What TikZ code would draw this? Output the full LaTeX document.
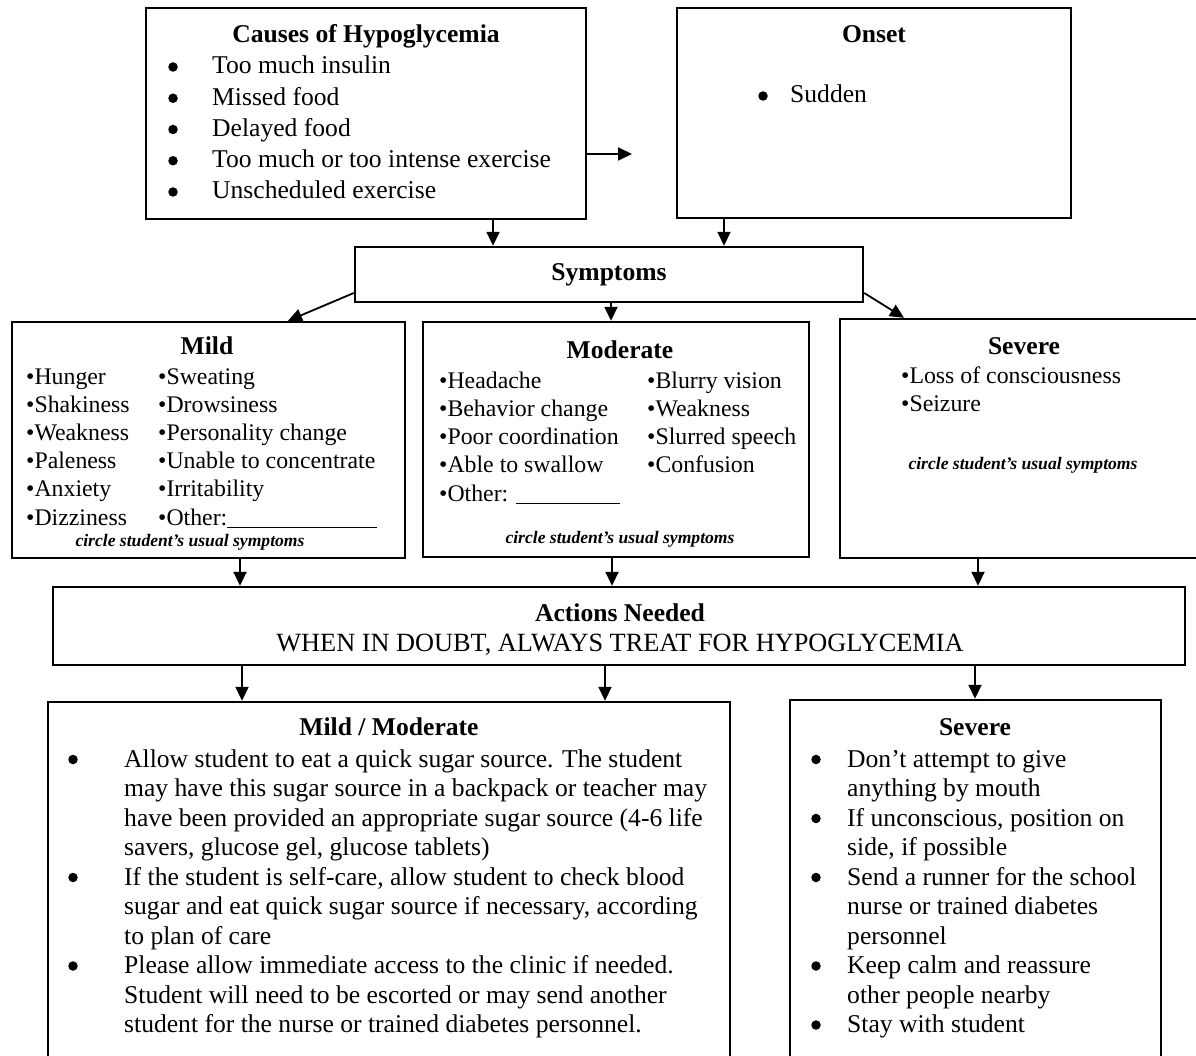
\documentclass[tikz,border=0pt]{standalone}
\usepackage{fontspec}
\setmainfont{Liberation Serif}
\usetikzlibrary{arrows.meta}
\begin{document}
\begin{tikzpicture}[x=1pt,y=-1pt,
  box/.style={draw, line width=2.4pt, inner sep=0pt},
  arr/.style={line width=1.8pt, -{Triangle[length=14pt,width=13pt]}},
  big/.style={font=\fontsize{25.6}{31}\selectfont, inner sep=0pt},
  bigb/.style={font=\fontsize{25.6}{31}\selectfont\bfseries, inner sep=0pt, anchor=base},
  med/.style={font=\fontsize{23.8}{28}\selectfont, inner sep=0pt, anchor=base west},
  note/.style={font=\fontsize{17.6}{20}\selectfont\bfseries\itshape, inner sep=0pt, anchor=base},
  dot/.style={circle, fill, inner sep=0pt, minimum size=9.5pt}]
\useasboundingbox (0,0) rectangle (1196,1056);
\clip (0,0) rectangle (1196,1056);
\fill[white] (0,0) rectangle (1196,1056);

% boxes
\node[box, minimum width=440pt, minimum height=211pt] (causes) at (366,113.5) {};
\node[box, minimum width=394pt, minimum height=210pt] (onset) at (874,113) {};
\node[box, minimum width=508pt, minimum height=55pt] (symptoms) at (609,274.5) {};
\node[box, minimum width=393pt, minimum height=236pt] (mild) at (208.5,440) {};
\node[box, minimum width=386pt, minimum height=235pt] (moderate) at (616,439.5) {};
\node[box, minimum width=358pt, minimum height=239pt] (severe) at (1019,438.5) {};
\node[box, minimum width=1132pt, minimum height=78pt] (actions) at (619,626) {};
\node[box, minimum width=682pt, minimum height=368pt] (mm) at (389,886) {};
\node[box, minimum width=371pt, minimum height=370pt] (sev2) at (975.5,885) {};

% connectors
\coordinate (oin) at (632,154);
\draw[arr] (causes.east |- oin) -- (oin);
\draw[arr] (causes.south -| 493,0) -- (symptoms.north -| 493,0);
\draw[arr] (onset.south -| 724,0) -- (symptoms.north -| 724,0);
\draw[arr] (symptoms.west |- 0,293) -- (mild.north -| 288,0);
\draw[arr] (symptoms.south -| 611,0) -- (moderate.north -| 611,0);
\draw[arr] (symptoms.east |- 0,293) -- (severe.north -| 904,0);
\draw[arr] (mild.south -| 240,0) -- (actions.north -| 240,0);
\draw[arr] (moderate.south -| 612,0) -- (actions.north -| 612,0);
\draw[arr] (severe.south -| 978,0) -- (actions.north -| 978,0);
\draw[arr] (actions.south -| 242,0) -- (mm.north -| 242,0);
\draw[arr] (actions.south -| 605,0) -- (mm.north -| 605,0);
\draw[arr] (actions.south -| 975,0) -- (sev2.north -| 975,0);

% causes
\node[bigb] (ctitle) at (366,43) {Causes of Hypoglycemia};
\foreach \t [count=\i from 0] in {Too much insulin, Missed food, Delayed food, Too much or too intense exercise, Unscheduled exercise} {
  \node[dot] (cb\i) at (173,67+31.25*\i) {};
  \node[big, anchor=base west] (ct\i) at (212,74+31.25*\i) {\t};
}

% onset
\node[bigb] (otitle) at (874,43) {Onset};
\node[dot] (ob) at (763,96) {};
\node[big, anchor=base west] (ot) at (790,103) {Sudden};

% symptoms
\node[bigb] (stitle) at (609,281) {Symptoms};

% mild
\node[bigb] (mtitle) at (207,355) {Mild};
\foreach \t [count=\i from 0] in {Hunger, Shakiness, Weakness, Paleness, Anxiety, Dizziness} {
  \node[med] (ma\i) at (26,384+28.2*\i) {\textbullet\t};
}
\foreach \t [count=\i from 0] in {Sweating, Drowsiness, Personality change, Unable to concentrate, Irritability, {Other:\rule[-3pt]{150pt}{1.2pt}}} {
  \node[med] (mb\i) at (158,384+28.2*\i) {\textbullet\t};
}
\node[note] (mnote) at (190,546) {circle student’s usual symptoms};

% moderate
\node[bigb] (dtitle) at (620,359) {Moderate};
\foreach \t [count=\i from 0] in {Headache, Behavior change, Poor coordination, Able to swallow, {Other: \rule[-3pt]{104pt}{1.2pt}}} {
  \node[med] (da\i) at (439,388+28.25*\i) {\textbullet\t};
}
\foreach \t [count=\i from 0] in {Blurry vision, Weakness, Slurred speech, Confusion} {
  \node[med] (db\i) at (647,388+28.25*\i) {\textbullet\t};
}
\node[note] (dnote) at (620,543) {circle student’s usual symptoms};

% severe
\node[bigb] (vtitle) at (1024,354) {Severe};
\node[med] (va0) at (901,383) {\textbullet Loss of consciousness};
\node[med] (va1) at (901,411) {\textbullet Seizure};
\node[note] (vnote) at (1023,469) {circle student’s usual symptoms};

% actions
\node[bigb] (atitle) at (620,621) {Actions Needed};
\node[big, anchor=base, font=\fontsize{26.3}{31}\selectfont] (aline) at (620,651) {WHEN IN DOUBT, ALWAYS TREAT FOR HYPOGLYCEMIA};

% mild / moderate actions
\node[bigb] (mmtitle) at (389,735) {Mild / Moderate};
\foreach \t [count=\i from 0] in {{Allow student to eat a quick sugar source. The student},
  {may have this sugar source in a backpack or teacher may},
  {have been provided an appropriate sugar source (4-6 life},
  {savers, glucose gel, glucose tablets)},
  {If the student is self-care, allow student to check blood},
  {sugar and eat quick sugar source if necessary, according},
  {to plan of care},
  {Please allow immediate access to the clinic if needed.},
  {Student will need to be escorted or may send another},
  {student for the nurse or trained diabetes personnel.}} {
  \node[big, anchor=base west] (mml\i) at (124,767+29.5*\i) {\t};
}
\foreach \i in {0,4,7} {
  \node[dot] (mmb\i) at (73,759.5+29.5*\i) {};
}

% severe actions
\node[bigb] (svtitle) at (975,735) {Severe};
\foreach \t [count=\i from 0] in {{Don’t attempt to give},
  {anything by mouth},
  {If unconscious, position on},
  {side, if possible},
  {Send a runner for the school},
  {nurse or trained diabetes},
  {personnel},
  {Keep calm and reassure},
  {other people nearby},
  {Stay with student}} {
  \node[big, anchor=base west] (svl\i) at (847,767+29.5*\i) {\t};
}
\foreach \i in {0,2,4,7,9} {
  \node[dot] (svb\i) at (816,759.5+29.5*\i) {};
}
\end{tikzpicture}
\end{document}
